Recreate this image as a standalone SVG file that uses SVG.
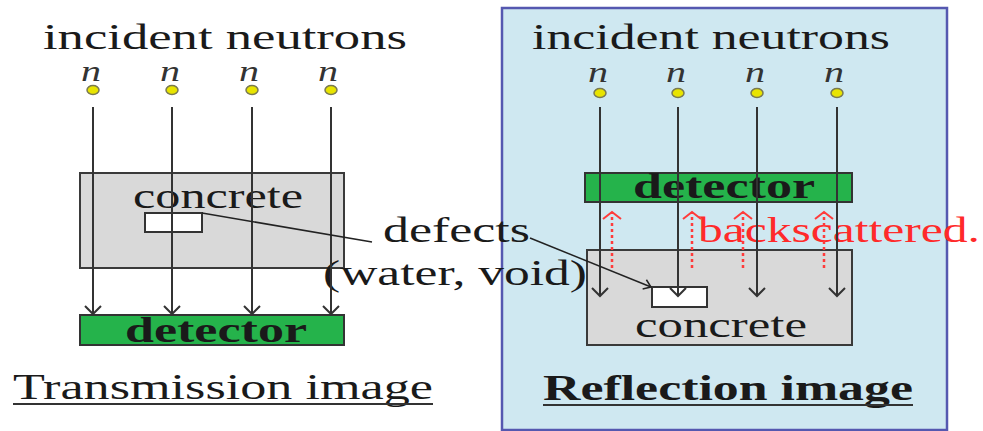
<svg xmlns="http://www.w3.org/2000/svg" width="983" height="431" viewBox="0 0 983 431">
<defs>
<style>
.t{font-family:"Liberation Serif","Times New Roman",serif;fill:#1a1a1a;font-size:35px}
.b{font-weight:bold}
.it{font-style:italic;font-size:29px;fill:#333}
.red{fill:#ff2a2a}
.conc{fill:#d9d9d9;stroke:#3a3a3a;stroke-width:2}
.det{fill:#25b34b;stroke:#333;stroke-width:2}
.def{fill:#fff;stroke:#333;stroke-width:2}
.dot{fill:#e8e400;stroke:#7a7a50;stroke-width:1.5}
.ray{stroke:#333;stroke-width:2;fill:none;marker-end:url(#chev)}
.back{stroke:#ff3b3b;stroke-width:2.5;stroke-dasharray:3 3;fill:none;marker-end:url(#chevr)}
.lead{stroke:#222;stroke-width:1.5;fill:none}
.ul{stroke:#333;stroke-width:2}
</style>
<marker id="chev" markerUnits="userSpaceOnUse" viewBox="-10 -10 12 20" refX="0" refY="0" markerWidth="12" markerHeight="20" orient="auto">
<path d="M-8,-8 L0,0 L-8,8" fill="none" stroke="#333" stroke-width="2"/>
</marker>
<marker id="chevr" markerUnits="userSpaceOnUse" viewBox="-10 -10 12 20" refX="0" refY="0" markerWidth="12" markerHeight="20" orient="auto">
<path d="M-7,-9 L0,0 L-7,9" fill="none" stroke="#ff3b3b" stroke-width="2"/>
</marker>
<marker id="chevs" markerUnits="userSpaceOnUse" viewBox="-10 -10 12 20" refX="0" refY="0" markerWidth="12" markerHeight="20" orient="auto">
<path d="M-7,-5 L0,0 L-7,5" fill="none" stroke="#222" stroke-width="1.5"/>
</marker>
</defs>
<rect width="983" height="431" fill="#fff"/>

<g id="reflection-panel">
<rect x="502" y="8" width="445" height="422" fill="#cfe8f1" stroke="#5558b0" stroke-width="2.5"/>
</g>

<g id="left-concrete">
<rect class="conc" x="80" y="173" width="264" height="95"/>
<text class="t" x="133" y="208" textLength="170" lengthAdjust="spacingAndGlyphs">concrete</text>
</g>
<g id="left-defect"><rect class="def" x="145" y="213" width="57" height="19"/></g>
<g id="left-detector">
<rect class="det" x="80" y="315" width="264" height="30"/>
<text class="t b" x="125" y="342" textLength="182" lengthAdjust="spacingAndGlyphs">detector</text>
</g>

<g id="right-detector">
<rect class="det" x="585" y="173" width="267" height="29"/>
<text class="t b" x="633" y="198" textLength="182" lengthAdjust="spacingAndGlyphs">detector</text>
</g>
<g id="right-concrete">
<rect class="conc" x="587" y="250" width="265" height="95"/>
<text class="t" x="635" y="337" textLength="172" lengthAdjust="spacingAndGlyphs">concrete</text>
</g>
<g id="right-defect"><rect class="def" x="652" y="287" width="55" height="20"/></g>

<g id="left-source">
<text class="t" x="43" y="49" textLength="364" lengthAdjust="spacingAndGlyphs">incident neutrons</text>
<text class="t it" x="81" y="81" textLength="20" lengthAdjust="spacingAndGlyphs">n</text>
<text class="t it" x="160" y="81" textLength="20" lengthAdjust="spacingAndGlyphs">n</text>
<text class="t it" x="239" y="81" textLength="20" lengthAdjust="spacingAndGlyphs">n</text>
<text class="t it" x="318" y="81" textLength="20" lengthAdjust="spacingAndGlyphs">n</text>
<ellipse class="dot" cx="93" cy="90" rx="6" ry="4.5"/>
<ellipse class="dot" cx="172" cy="90" rx="6" ry="4.5"/>
<ellipse class="dot" cx="252" cy="90" rx="6" ry="4.5"/>
<ellipse class="dot" cx="331" cy="90" rx="6" ry="4.5"/>
</g>

<g id="right-source">
<text class="t" x="532" y="49" textLength="358" lengthAdjust="spacingAndGlyphs">incident neutrons</text>
<text class="t it" x="588" y="82" textLength="20" lengthAdjust="spacingAndGlyphs">n</text>
<text class="t it" x="666" y="82" textLength="20" lengthAdjust="spacingAndGlyphs">n</text>
<text class="t it" x="745" y="82" textLength="20" lengthAdjust="spacingAndGlyphs">n</text>
<text class="t it" x="824" y="82" textLength="20" lengthAdjust="spacingAndGlyphs">n</text>
<ellipse class="dot" cx="600" cy="93" rx="6" ry="4.5"/>
<ellipse class="dot" cx="678" cy="93" rx="6" ry="4.5"/>
<ellipse class="dot" cx="757" cy="93" rx="6" ry="4.5"/>
<ellipse class="dot" cx="837" cy="93" rx="6" ry="4.5"/>
</g>

<g id="defects-label">
<text class="t" x="383" y="242" textLength="147" lengthAdjust="spacingAndGlyphs">defects</text>
<text class="t" x="323" y="285" textLength="264" lengthAdjust="spacingAndGlyphs">(water, void)</text>
</g>

<g id="backscattered-label">
<text class="t red" x="698" y="242" textLength="282" lengthAdjust="spacingAndGlyphs">backscattered.</text>
</g>

<g id="captions">
<text class="t" x="13" y="399" textLength="420" lengthAdjust="spacingAndGlyphs">Transmission image</text>
<line class="ul" x1="13" y1="404" x2="433" y2="404"/>
<text class="t b" x="543" y="400" textLength="370" lengthAdjust="spacingAndGlyphs">Reflection image</text>
<line class="ul" x1="543" y1="405" x2="913" y2="405"/>
</g>

<g id="connectors">
<line class="ray" x1="93" y1="107" x2="93" y2="314"/>
<line class="ray" x1="172" y1="107" x2="172" y2="314"/>
<line class="ray" x1="252" y1="107" x2="252" y2="314"/>
<line class="ray" x1="331" y1="107" x2="331" y2="314"/>
<line class="ray" x1="600" y1="107" x2="600" y2="296"/>
<line class="ray" x1="678" y1="107" x2="678" y2="296"/>
<line class="ray" x1="757" y1="107" x2="757" y2="296"/>
<line class="ray" x1="837" y1="107" x2="837" y2="296"/>
<line class="back" x1="612" y1="268" x2="612" y2="212"/>
<line class="back" x1="692" y1="268" x2="692" y2="212"/>
<line class="back" x1="743" y1="268" x2="743" y2="212"/>
<line class="back" x1="824" y1="268" x2="824" y2="212"/>
<line class="lead" x1="202" y1="213" x2="372" y2="242"/>
<line class="lead" x1="530" y1="238" x2="651" y2="287" marker-end="url(#chevs)"/>
</g>
</svg>
